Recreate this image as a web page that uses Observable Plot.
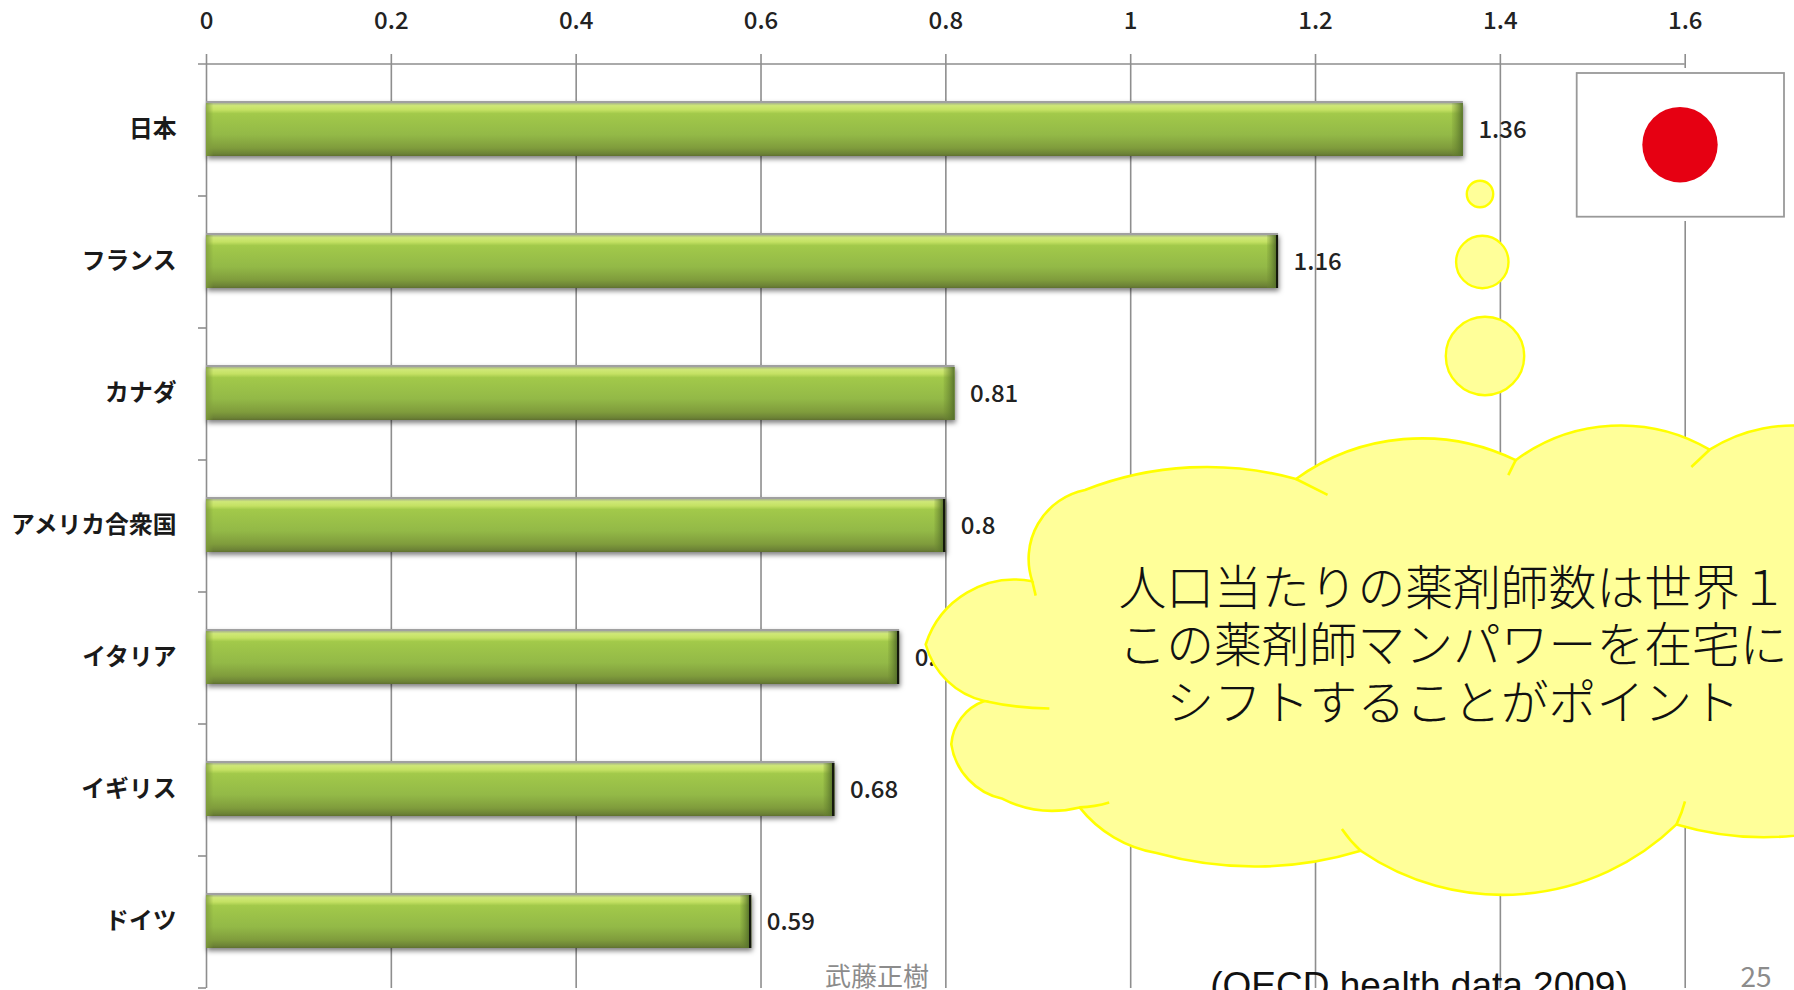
<!DOCTYPE html>
<html><head><meta charset="utf-8">
<script src="https://cdn.jsdelivr.net/npm/d3@7"></script>
<script src="https://cdn.jsdelivr.net/npm/@observablehq/plot@0.6"></script>
<style>html,body{margin:0;padding:0;background:#fff;overflow:hidden}svg{display:block}</style>
</head><body><div id="chart"></div>
<script>
const countries = ["日本","フランス","カナダ","アメリカ合衆国","イタリア","イギリス","ドイツ"];
const values = [1.36,1.16,0.81,0.8,0.75,0.68,0.59];
const xTicks = [0,0.2,0.4,0.6,0.8,1,1.2,1.4,1.6];
const softEdge = ["日本","カナダ"];
const cloudLines = ["人口当たりの薬剤師数は世界１","この薬剤師マンパワーを在宅に","シフトすることがポイント"];
const rows = countries.map((c,i)=>({country:c,value:values[i]}));
const FONT = "'Noto Sans CJK JP','Noto Sans',sans-serif";
const NS = "http://www.w3.org/2000/svg";
function el(name, attrs, parent){const e=document.createElementNS(NS,name);for(const k in attrs)e.setAttribute(k,attrs[k]);if(parent)parent.appendChild(e);return e;}

function defsMark(){
  const g=el("g",{});const d=el("defs",{},g);
  const grad=(id,dir,stops)=>{const lg=el("linearGradient",{id,x1:0,y1:0,x2:dir?1:0,y2:dir?0:1},d);
    stops.forEach(([o,c,a])=>el("stop",{offset:o,"stop-color":c,"stop-opacity":a==null?1:a},lg));};
  grad("barGrad",false,[[0,"#a9b58c"],[0.05,"#cfe877"],[0.13,"#c4e163"],[0.2,"#a2c94a"],[0.6,"#93b947"],[0.85,"#7f9c3c"],[0.96,"#6c8236"],[1,"#5f7030"]]);
  grad("bevelR",true,[[0,"#6d8a30",0.15],[0.95,"#55702a",0.9],[1,"#55702a",1]]);
  grad("bevelRd",true,[[0,"#6d8a30",0.15],[0.78,"#55702a",0.9],[0.8,"#14180c",1],[1,"#14180c",1]]);
  grad("bevelL",true,[[0,"#7f9c3c",0.8],[1,"#7f9c3c",0]]);
  return g;
}
function arc3(a,m,b){
  const [ax,ay]=a,[bx,by]=b,[cx,cy]=m;
  const D=2*(ax*(by-cy)+bx*(cy-ay)+cx*(ay-by));
  const ux=((ax*ax+ay*ay)*(by-cy)+(bx*bx+by*by)*(cy-ay)+(cx*cx+cy*cy)*(ay-by))/D;
  const uy=((ax*ax+ay*ay)*(cx-bx)+(bx*bx+by*by)*(ax-cx)+(cx*cx+cy*cy)*(bx-ax))/D;
  const r=Math.hypot(ax-ux,ay-uy);
  const cross=(bx-ax)*(cy-ay)-(by-ay)*(cx-ax);
  const sweep=cross<0?1:0;
  const side=(bx-ax)*(uy-ay)-(by-ay)*(ux-ax);
  const large=((side<0)===(cross<0))?1:0;
  return `A${r} ${r} 0 ${large} ${sweep} ${b[0]} ${b[1]}`;
}
function cloudMark(){
  const g=el("g",{});
  const lobes=[
    [[1032.3,581.3],[1030,545],[1085,490]],
    [[1085,490],[1201,467],[1296,479]],
    [[1296,479],[1418.8,438.4],[1515.7,460.2]],
    [[1515.7,460.2],[1615.5,425.6],[1709.6,449.7]],
    [[1709.6,449.7],[1760,429],[1820,428]],
    null,
    [[1820,832],[1755,837],[1676.5,824.4]],
    [[1676.5,824.4],[1510,894.7],[1360.7,850.7]],
    [[1360.7,850.7],[1253.5,866.5],[1156.6,853]],
    [[1156.6,853],[1110,835],[1079.6,807.4]],
    [[1079.6,807.4],[1040,810],[1002.6,798.8]],
    [[1002.6,798.8],[961,770],[951.3,744.2]],
    [[951.3,744.2],[959.9,719.8],[984.4,701]],
    [[984.4,701],[948.5,682],[925.7,644.5]],
    [[925.7,644.5],[957,599.4],[1032.3,581.3]]
  ];
  let p=`M${lobes[0][0]}`;
  lobes.forEach(l=>{ if(l===null){p+="L1820 832";} else p+=arc3(l[0],l[1],l[2]); });
  p+="Z";
  el("path",{d:p,fill:"#ffff99",stroke:"#ffff00","stroke-width":2.6},g);
  const tails=["M1032.3 581.3L1035.7 595.6","M1296 479L1327.6 494.8","M1515.7 460.2L1508.3 475.2","M1709.6 449.7L1691.3 467",
    "M984.4 701Q1015 708 1049.4 708.5","M1079.6 807.4Q1095 807 1109.2 802.6","M1360.7 850.7Q1350 841 1341.9 829","M1676.5 824.4Q1682 813 1685 801.4"];
  tails.forEach(d=>el("path",{d,fill:"none",stroke:"#ffff00","stroke-width":2.6},g));
  cloudLines.forEach((t,i)=>{
    const e=el("text",{x:1453,y:584+57.5*i,"text-anchor":"middle","dominant-baseline":"central",
      "font-size":47.8,"font-weight":300,fill:"#111","font-family":FONT},g);e.textContent=t;});
  return g;
}
function decorMark(){
  const g=el("g",{});
  el("rect",{x:1574,y:68,width:213,height:153,fill:"#fff"},g);
  el("rect",{x:1576.7,y:73,width:207.3,height:143.7,fill:"#fff",stroke:"#999","stroke-width":1.8},g);
  el("circle",{cx:1680,cy:144.7,r:37.7,fill:"#e60012"},g);
  [[1480,194,13.2],[1482.3,262,26.2],[1485,356,39.2]].forEach(([cx,cy,r])=>
    el("circle",{cx,cy,r,fill:"#ffff99",stroke:"#ffff00","stroke-width":2.4},g));
  return g;
}
function footerMark(){
  const g=el("g",{});
  const t=(s,x,y,size,fill,fam,anchor)=>{const e=el("text",{x,y,"font-size":size,fill,"font-family":fam,"text-anchor":anchor||"middle"},g);e.textContent=s;};
  t("武藤正樹",877,986,26,"#8c8c8c",FONT);
  t("25",1756,987,28,"#8c8c8c",FONT);
  t("(OECD health data 2009)",1419,998,37,"#111","'Liberation Sans',Arial,sans-serif");
  return g;
}
const pitch=132;
const chart=Plot.plot({
  width:1794,height:990,
  marginLeft:206,marginRight:109.3,marginTop:64,marginBottom:2,
  style:{background:"#fff",fontFamily:FONT,overflow:"hidden"},
  x:{domain:[0,1.6],label:null},
  y:{domain:countries,paddingInner:0.595,paddingOuter:0.2975,align:0.5,label:null},
  marks:[
    defsMark,
    Plot.ruleX(xTicks,{stroke:"#8e8e8e",strokeWidth:1.6,insetTop:-10}),
    Plot.ruleY([countries[0]],{y:d=>d,dy:-pitch/2,x1:-8/924,x2:1.6,stroke:"#8e8e8e",strokeWidth:1.6}),
    Plot.ruleY(countries,{y:d=>d,dy:pitch/2,x1:-8/924,x2:0,stroke:"#8e8e8e",strokeWidth:1.6}),
    Plot.axisX(xTicks,{anchor:"top",tickSize:0,tickPadding:35.5,fontSize:24,fontWeight:500,fill:"#222",tickFormat:d=>String(d),label:null}),
    Plot.axisY({anchor:"left",tickSize:0,tickPadding:30,fontSize:23.8,fontWeight:700,fill:"#1a1a1a",dy:-1,label:null}),
    Plot.barX(rows,{x:"value",y:"country",fill:"url(#barGrad)",imageFilter:"drop-shadow(0 -1.5px 0.5px #a0a0a0) drop-shadow(1.5px 3px 2.5px rgba(0,0,0,.5))"}),
    Plot.rectX(rows.filter(d=>softEdge.includes(d.country)),{x1:d=>d.value-0.012,x2:"value",y:"country",fill:"url(#bevelR)"}),
    Plot.rectX(rows.filter(d=>!softEdge.includes(d.country)),{x1:d=>d.value-0.012,x2:"value",y:"country",fill:"url(#bevelRd)"}),
    Plot.rectX(rows,{x1:0,x2:0.008,y:"country",fill:"url(#bevelL)"}),
    Plot.text(rows,{x:"value",y:"country",text:d=>String(d.value),dx:15,textAnchor:"start",fontSize:24,fontWeight:500,fill:"#222"}),
    decorMark,
    cloudMark,
    footerMark
  ]
});
document.getElementById("chart").appendChild(chart);
</script></body></html>
